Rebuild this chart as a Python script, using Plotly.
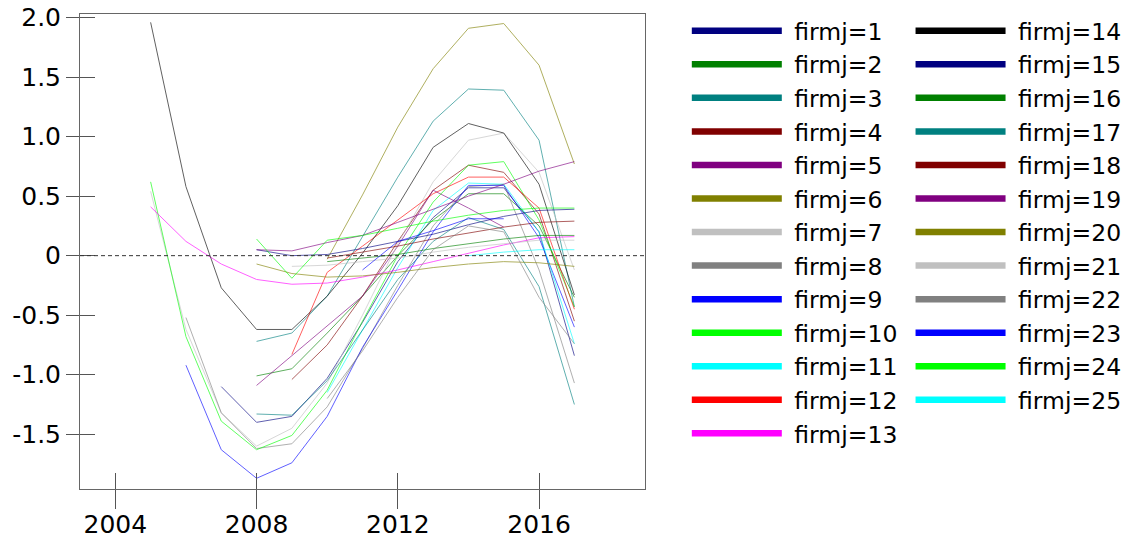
import plotly.graph_objects as go

years = [2005, 2006, 2007, 2008, 2009, 2010, 2011, 2012, 2013, 2014, 2015, 2016, 2017]

firm01 = [None, None, -1.10, -1.40, -1.35, -1.03, -0.56, -0.05, 0.32, 0.57, 0.57, 0.20, -0.84]
firm02 = [None, None, None, -1.01, -0.95, -0.65, -0.34, 0.00, 0.30, 0.52, 0.52, 0.25, -0.35]
firm03 = [None, None, None, -0.72, -0.65, -0.34, 0.16, 0.66, 1.13, 1.40, 1.39, 0.97, -0.43]
firm04 = [None, None, None, None, -1.04, -0.75, -0.34, 0.12, 0.55, 0.76, 0.70, 0.35, -0.55]
firm05 = [None, None, None, -1.09, -0.84, -0.59, -0.34, 0.08, 0.55, 0.40, 0.24, None, None]
firm06 = [None, None, None, None, None, -0.03, 0.51, 1.08, 1.57, 1.91, 1.95, 1.60, 0.77]
firm07 = [0.54, -0.62, -1.32, -1.60, -1.45, -1.07, -0.50, 0.10, 0.62, 0.97, 1.03, 0.70, -0.12]
firm08 = [None, -0.52, -1.32, -1.62, -1.58, -1.27, -0.78, -0.25, 0.25, 0.58, 0.60, -0.12, -1.07]
firm09 = [None, -0.92, -1.63, -1.87, -1.74, -1.35, -0.77, -0.29, 0.20, 0.59, 0.59, 0.15, -0.60]
firm10 = [0.62, -0.68, -1.39, -1.63, -1.51, -1.13, -0.55, 0.00, 0.45, 0.76, 0.79, 0.30, -0.43]
firm11 = [None, None, None, None, None, -1.15, -0.62, -0.10, 0.38, 0.61, 0.60, 0.20, -0.74]
firm12 = [None, None, None, None, -0.83, -0.14, 0.08, 0.30, 0.52, 0.66, 0.66, 0.40, -0.45]
firm13 = [0.41, 0.12, -0.07, -0.20, -0.24, -0.23, -0.18, -0.12, -0.05, 0.02, 0.09, 0.15, 0.16]
firm14 = [1.96, 0.58, -0.27, -0.62, -0.62, -0.34, 0.02, 0.42, 0.91, 1.11, 1.03, 0.60, -0.33]
firm15 = [None, None, None, 0.05, 0.00, 0.01, 0.06, 0.12, 0.18, 0.26, 0.33, 0.38, 0.39]
firm16 = [None, None, None, None, None, -0.05, -0.02, 0.01, 0.06, 0.10, 0.14, 0.17, 0.17]
firm17 = [None, None, None, -1.33, -1.34, -1.05, -0.62, -0.20, 0.12, 0.32, 0.22, -0.26, -1.25]
firm18 = [None, None, None, None, None, -0.02, 0.03, 0.08, 0.14, 0.19, 0.24, 0.28, 0.29]
firm19 = [None, None, None, 0.05, 0.04, 0.11, 0.17, 0.28, 0.39, 0.50, 0.60, 0.71, 0.79]
firm20 = [None, None, None, -0.07, -0.15, -0.18, -0.17, -0.14, -0.10, -0.07, -0.05, -0.06, -0.09]
firm21 = [None, None, None, None, -0.09, -0.08, -0.05, -0.02, 0.03, 0.07, 0.10, 0.13, 0.13]
firm22 = [None, None, None, None, None, -1.20, -0.80, -0.35, 0.05, 0.25, 0.20, -0.35, -0.74]
firm23 = [None, None, None, None, None, None, -0.12, 0.12, 0.21, 0.31, 0.31, None, None]
firm24 = [None, None, None, 0.14, -0.19, 0.13, 0.17, 0.23, 0.29, 0.34, 0.38, 0.40, 0.40]
firm25 = [None, None, None, None, None, None, None, None, None, 0.00, 0.03, 0.05, 0.05]

firm_names = ["firmj=%d" % i for i in range(1, 26)]
firm_colors = ["#000080", "#008000", "#008080", "#800000", "#800080", "#808000",
               "#C0C0C0", "#808080", "#0000FF", "#00FF00", "#00FFFF", "#FF0000",
               "#FF00FF", "#000000", "#000080", "#008000", "#008080", "#800000",
               "#800080", "#808000", "#C0C0C0", "#808080", "#0000FF", "#00FF00",
               "#00FFFF"]
series = [firm01, firm02, firm03, firm04, firm05, firm06, firm07, firm08, firm09,
          firm10, firm11, firm12, firm13, firm14, firm15, firm16, firm17, firm18,
          firm19, firm20, firm21, firm22, firm23, firm24, firm25]

y_tickvals = [-1.5, -1.0, -0.5, 0, 0.5, 1.0, 1.5, 2.0]
y_ticktext = ["-1.5", "-1.0", "-0.5", "0", "0.5", "1.0", "1.5", "2.0"]
x_tickvals = [2004, 2008, 2012, 2016]

FONT = "DejaVu Sans, Liberation Sans, sans-serif"

fig = go.Figure()
for name, col, vals in zip(firm_names, firm_colors, series):
    fig.add_trace(go.Scatter(x=years, y=vals, mode="lines", name=name,
                             line=dict(color=col, width=1), opacity=0.62,
                             showlegend=False, hoverinfo="skip"))

for i, (name, col) in enumerate(zip(firm_names, firm_colors)):
    fig.add_trace(go.Scatter(x=[None], y=[None], mode="lines",
                             name="\u00a0" + name,
                             line=dict(color=col, width=6.5),
                             legend="legend" if i < 13 else "legend2"))

fig.add_shape(type="line", xref="x domain", yref="y", x0=0, x1=1, y0=0, y1=0,
              line=dict(color="#333333", width=1, dash="4px,3px"))

axis_common = dict(showgrid=False, zeroline=False, automargin=False,
                   tickfont=dict(family=FONT, size=25, color="#000000"))

Y_DOMAIN = [0, 475 / 489]

fig.update_layout(
    width=1137, height=538,
    margin=dict(l=80, r=492, t=0, b=49),
    paper_bgcolor="white", plot_bgcolor="white",
    xaxis=dict(range=[2003, 2019], tickvals=x_tickvals, ticks="outside",
               ticklen=19, tickcolor="#555555", showline=True, mirror=True,
               linecolor="#666666", linewidth=1, ticklabelstandoff=-6,
               **axis_common),
    yaxis=dict(range=[-1.96, 2.03], domain=Y_DOMAIN, tickvals=y_tickvals,
               ticktext=y_ticktext, ticks="outside", ticklen=13,
               tickcolor="#555555", showline=True, mirror=True,
               linecolor="#666666", linewidth=1, **axis_common),
    xaxis2=dict(range=[2003, 2019], tickvals=x_tickvals, ticks="inside",
                ticklen=16, tickcolor="#555555", showticklabels=False,
                overlaying="x", showgrid=False, zeroline=False, showline=False,
                automargin=False),
    yaxis2=dict(range=[-1.96, 2.03], domain=Y_DOMAIN, tickvals=y_tickvals,
                ticks="inside", ticklen=15, tickcolor="#555555",
                showticklabels=False, overlaying="y", showgrid=False,
                zeroline=False, showline=False, automargin=False),
    legend=dict(x=1.074, y=0.9816, xanchor="left", yanchor="top",
                font=dict(family=FONT, size=23.5, color="#000000"),
                itemwidth=90, bgcolor="rgba(0,0,0,0)", tracegroupgap=0),
    legend2=dict(x=1.47, y=0.9816, xanchor="left", yanchor="top",
                 font=dict(family=FONT, size=23.5, color="#000000"),
                 itemwidth=90, bgcolor="rgba(0,0,0,0)", tracegroupgap=0),
)

# invisible trace that activates the overlay axes (inner tick marks)
fig.add_trace(go.Scatter(x=[None], y=[None], xaxis="x2", yaxis="y2",
                         showlegend=False, hoverinfo="skip"))

fig.write_html("out.html")
